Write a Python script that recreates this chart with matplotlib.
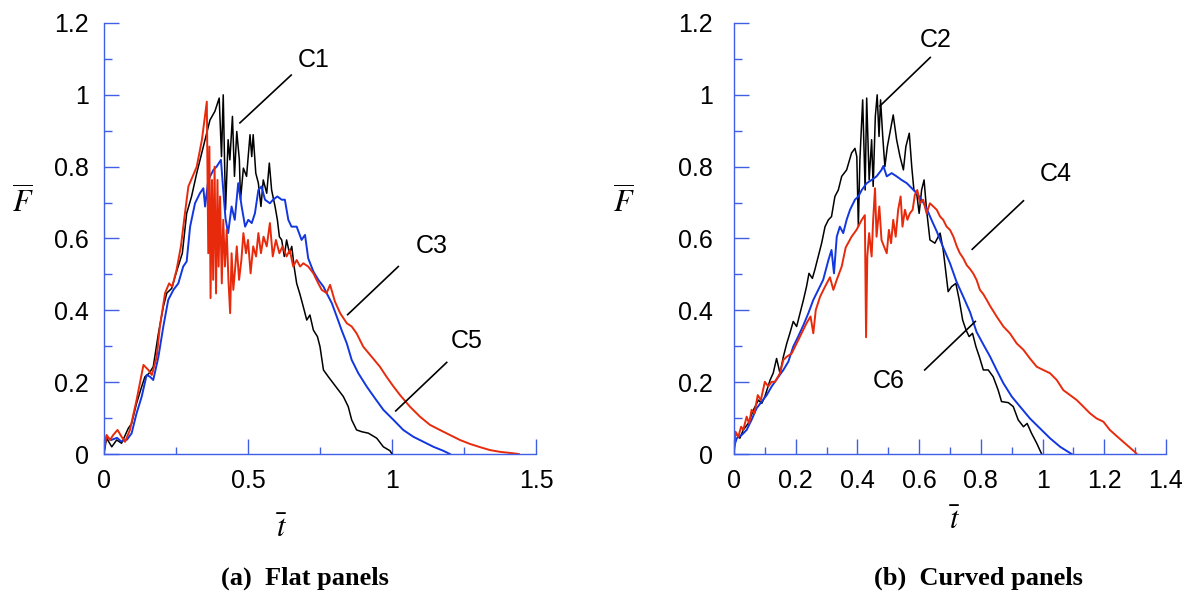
import matplotlib
matplotlib.use("Agg")
import matplotlib.pyplot as plt
from matplotlib.ticker import MultipleLocator, FuncFormatter

plt.rcParams['font.family'] = ['Liberation Sans', 'DejaVu Sans']
plt.rcParams['mathtext.fontset'] = 'stix'

# ---- (a) flat panels : C1 black, C3 red, C5 blue ----
t_c1 = [0, 0.009, 0.027, 0.044, 0.061, 0.084, 0.096, 0.113, 0.131, 0.142, 0.157, 0.171,
        0.189, 0.206, 0.218, 0.235, 0.252, 0.272, 0.287, 0.304, 0.322, 0.345, 0.368, 0.385,
        0.4, 0.408, 0.414, 0.422, 0.431, 0.437, 0.446, 0.453, 0.461, 0.47, 0.474, 0.484,
        0.495, 0.507, 0.513, 0.518, 0.527, 0.536, 0.545, 0.553, 0.565, 0.574, 0.582, 0.594,
        0.602, 0.609, 0.617, 0.626, 0.634, 0.644, 0.652, 0.66, 0.669, 0.681, 0.692, 0.704,
        0.715, 0.727, 0.741, 0.75, 0.762, 0.779, 0.796, 0.814, 0.831, 0.848, 0.86, 0.877,
        0.895, 0.918, 0.947, 0.97, 0.993, 1.0]
f_c1 = [0.002, 0.044, 0.02, 0.039, 0.03, 0.071, 0.085, 0.141, 0.188, 0.215, 0.225, 0.243,
        0.336, 0.41, 0.448, 0.461, 0.508, 0.559, 0.67, 0.717, 0.782, 0.856, 0.93, 0.954,
        0.991, 0.828, 1.0, 0.68, 0.875, 0.819, 0.94, 0.773, 0.898, 0.819, 0.708, 0.796,
        0.773, 0.889, 0.828, 0.889, 0.782, 0.754, 0.689, 0.763, 0.726, 0.81, 0.735, 0.689,
        0.652, 0.605, 0.596, 0.55, 0.596, 0.559, 0.578, 0.522, 0.475, 0.443, 0.41, 0.373,
        0.387, 0.345, 0.327, 0.299, 0.234, 0.215, 0.197, 0.178, 0.16, 0.132, 0.095, 0.067,
        0.062, 0.058, 0.044, 0.02, 0.009, 0.0]

t_c3 = [0.0, 0.009, 0.021, 0.032, 0.047, 0.061, 0.073, 0.09, 0.113, 0.137, 0.154, 0.166,
        0.183, 0.194, 0.212, 0.226, 0.237, 0.252, 0.267, 0.281, 0.293, 0.31, 0.322, 0.34,
        0.357, 0.362, 0.366, 0.37, 0.375, 0.379, 0.384, 0.389, 0.394, 0.398, 0.403, 0.409,
        0.414, 0.42, 0.426, 0.432, 0.438, 0.443, 0.449, 0.455, 0.461, 0.469, 0.477, 0.484,
        0.493, 0.5, 0.509, 0.518, 0.528, 0.536, 0.545, 0.554, 0.565, 0.576, 0.586, 0.597,
        0.609, 0.62, 0.634, 0.645, 0.657, 0.669, 0.681, 0.692, 0.709, 0.727, 0.744, 0.756,
        0.773, 0.785, 0.802, 0.82, 0.843, 0.86, 0.877, 0.9, 0.929, 0.958, 0.981, 1.005,
        1.028, 1.062, 1.097, 1.132, 1.166, 1.201, 1.236, 1.271, 1.306, 1.34, 1.375, 1.41,
        1.44]
f_c3 = [0.011, 0.053, 0.039, 0.053, 0.067, 0.048, 0.034, 0.067, 0.15, 0.248, 0.234, 0.22,
        0.271, 0.355, 0.448, 0.475, 0.466, 0.513, 0.578, 0.67, 0.745, 0.777, 0.8, 0.875,
        0.981, 0.559, 0.856, 0.434, 0.763, 0.485, 0.8, 0.447, 0.763, 0.522, 0.717, 0.475,
        0.652, 0.522, 0.624, 0.485, 0.392, 0.559, 0.457, 0.513, 0.578, 0.485, 0.54, 0.615,
        0.559, 0.596, 0.503, 0.578, 0.55, 0.615, 0.559, 0.605, 0.578, 0.643, 0.55, 0.596,
        0.559, 0.578, 0.55, 0.568, 0.522, 0.54, 0.522, 0.531, 0.522, 0.503, 0.475, 0.457,
        0.448, 0.471, 0.424, 0.392, 0.364, 0.355, 0.336, 0.299, 0.271, 0.243, 0.215, 0.188,
        0.164, 0.132, 0.104, 0.081, 0.067, 0.053, 0.039, 0.028, 0.019, 0.011, 0.006, 0.003,
        0.0]

t_c5 = [0.0, 0.009, 0.025, 0.045, 0.06, 0.08, 0.096, 0.113, 0.131, 0.148, 0.16, 0.171,
        0.189, 0.206, 0.223, 0.241, 0.258, 0.275, 0.287, 0.299, 0.316, 0.333, 0.345, 0.351,
        0.362, 0.38, 0.391, 0.406, 0.414, 0.422, 0.431, 0.443, 0.454, 0.466, 0.478, 0.49,
        0.501, 0.513, 0.524, 0.536, 0.547, 0.559, 0.576, 0.587, 0.602, 0.617, 0.628, 0.64,
        0.651, 0.669, 0.686, 0.698, 0.709, 0.727, 0.744, 0.762, 0.773, 0.791, 0.808, 0.825,
        0.843, 0.86, 0.883, 0.912, 0.941, 0.97, 1.005, 1.039, 1.074, 1.109, 1.144, 1.178,
        1.201]
f_c5 = [0.03, 0.048, 0.039, 0.045, 0.035, 0.04, 0.058, 0.113, 0.16, 0.22, 0.215, 0.206,
        0.271, 0.355, 0.429, 0.457, 0.475, 0.522, 0.536, 0.633, 0.698, 0.726, 0.74, 0.689,
        0.763, 0.791, 0.8, 0.819, 0.735, 0.655, 0.615, 0.689, 0.652, 0.754, 0.689, 0.633,
        0.652, 0.643, 0.67, 0.735, 0.745, 0.708, 0.698, 0.708, 0.717, 0.708, 0.708, 0.652,
        0.633, 0.633, 0.596, 0.61, 0.545, 0.508, 0.485, 0.466, 0.448, 0.42, 0.383, 0.345,
        0.308, 0.262, 0.225, 0.188, 0.155, 0.123, 0.095, 0.067, 0.048, 0.034, 0.02, 0.009,
        0.0]

# ---- (b) curved panels : C2 black, C4 red, C6 blue ----
t_c2 = [0, 0.005, 0.019, 0.03, 0.046, 0.063, 0.079, 0.09, 0.1, 0.117, 0.127, 0.138, 0.149,
        0.16, 0.171, 0.181, 0.192, 0.203, 0.214, 0.225, 0.235, 0.243, 0.254, 0.262, 0.273,
        0.284, 0.295, 0.306, 0.316, 0.327, 0.338, 0.349, 0.365, 0.381, 0.392, 0.398, 0.403,
        0.408, 0.417, 0.425, 0.43, 0.438, 0.446, 0.451, 0.458, 0.464, 0.47, 0.475, 0.482,
        0.489, 0.497, 0.505, 0.516, 0.527, 0.538, 0.549, 0.557, 0.568, 0.576, 0.583, 0.592,
        0.6, 0.608, 0.616, 0.624, 0.635, 0.651, 0.668, 0.678, 0.687, 0.694, 0.705, 0.719,
        0.73, 0.741, 0.752, 0.762, 0.773, 0.784, 0.795, 0.808, 0.824, 0.84, 0.856, 0.867,
        0.889, 0.905, 0.921, 0.938, 0.95, 0.964, 0.981, 0.997]
f_c2 = [0, 0.058, 0.044, 0.067, 0.085, 0.123, 0.15, 0.141, 0.16, 0.206, 0.225, 0.266, 0.225,
        0.271, 0.308, 0.336, 0.369, 0.355, 0.392, 0.429, 0.466, 0.503, 0.489, 0.513, 0.55,
        0.587, 0.633, 0.652, 0.661, 0.717, 0.735, 0.773, 0.791, 0.838, 0.851, 0.828, 0.633,
        0.819, 0.986, 0.735, 0.991, 0.763, 0.875, 0.745, 0.94, 1.0, 0.884, 0.986, 0.884,
        0.8, 0.856, 0.893, 0.944, 0.875, 0.828, 0.791, 0.856, 0.893, 0.8, 0.735, 0.726,
        0.67, 0.735, 0.763, 0.68, 0.596, 0.587, 0.615, 0.568, 0.503, 0.452, 0.466, 0.475,
        0.429, 0.373, 0.345, 0.327, 0.336, 0.299, 0.271, 0.234, 0.234, 0.215, 0.178, 0.146,
        0.143, 0.132, 0.095, 0.076, 0.085, 0.058, 0.03, 0.0]

t_c4 = [0, 0.005, 0.014, 0.023, 0.03, 0.041, 0.049, 0.057, 0.066, 0.077, 0.087, 0.1, 0.111,
        0.122, 0.133, 0.149, 0.16, 0.171, 0.187, 0.203, 0.219, 0.235, 0.248, 0.257, 0.265,
        0.279, 0.295, 0.311, 0.322, 0.333, 0.349, 0.362, 0.381, 0.397, 0.414, 0.424, 0.428,
        0.432, 0.438, 0.446, 0.451, 0.457, 0.462, 0.471, 0.478, 0.486, 0.495, 0.502, 0.509,
        0.516, 0.524, 0.532, 0.54, 0.546, 0.554, 0.562, 0.57, 0.579, 0.586, 0.594, 0.603,
        0.613, 0.624, 0.635, 0.646, 0.657, 0.668, 0.678, 0.689, 0.7, 0.711, 0.722, 0.732,
        0.743, 0.754, 0.765, 0.775, 0.786, 0.797, 0.808, 0.819, 0.83, 0.851, 0.873, 0.894,
        0.916, 0.938, 0.959, 0.981, 1.002, 1.024, 1.046, 1.067, 1.089, 1.111, 1.132, 1.154,
        1.175, 1.197, 1.218, 1.24, 1.26, 1.28, 1.3, 1.305]
f_c4 = [0.011, 0.062, 0.048, 0.076, 0.067, 0.104, 0.085, 0.123, 0.113, 0.164, 0.15, 0.201,
        0.188, 0.201, 0.201, 0.225, 0.262, 0.271, 0.28, 0.308, 0.336, 0.364, 0.383, 0.336,
        0.401, 0.438, 0.466, 0.492, 0.457, 0.485, 0.522, 0.575, 0.605, 0.624, 0.652, 0.665,
        0.325, 0.55, 0.615, 0.55, 0.652, 0.74, 0.605, 0.689, 0.596, 0.578, 0.559, 0.624,
        0.587, 0.652, 0.605, 0.68, 0.717, 0.633, 0.68, 0.652, 0.67, 0.68, 0.721, 0.735,
        0.698, 0.708, 0.67, 0.698, 0.689, 0.68, 0.661, 0.652, 0.633, 0.624, 0.605, 0.578,
        0.559, 0.545, 0.526, 0.515, 0.503, 0.485, 0.457, 0.445, 0.429, 0.412, 0.383, 0.355,
        0.336, 0.308, 0.29, 0.266, 0.243, 0.234, 0.225, 0.206, 0.178, 0.164, 0.15, 0.132,
        0.113, 0.099, 0.09, 0.067, 0.05, 0.035, 0.02, 0.005, 0.0]

t_c6 = [0, 0.009, 0.025, 0.041, 0.057, 0.073, 0.09, 0.106, 0.122, 0.144, 0.16, 0.176, 0.192,
        0.208, 0.225, 0.241, 0.257, 0.273, 0.289, 0.306, 0.316, 0.324, 0.333, 0.343, 0.354,
        0.365, 0.376, 0.392, 0.403, 0.414, 0.43, 0.446, 0.462, 0.478, 0.484, 0.495, 0.511,
        0.527, 0.543, 0.56, 0.576, 0.592, 0.608, 0.624, 0.64, 0.657, 0.678, 0.7, 0.721,
        0.743, 0.765, 0.786, 0.808, 0.83, 0.851, 0.873, 0.9, 0.927, 0.959, 0.992, 1.024,
        1.057, 1.094]
f_c6 = [0.02, 0.044, 0.053, 0.067, 0.095, 0.127, 0.146, 0.164, 0.188, 0.215, 0.234, 0.257,
        0.299, 0.327, 0.359, 0.392, 0.429, 0.457, 0.485, 0.54, 0.568, 0.503, 0.605, 0.633,
        0.615, 0.652, 0.68, 0.708, 0.717, 0.735, 0.754, 0.763, 0.773, 0.791, 0.802, 0.773,
        0.782, 0.773, 0.763, 0.754, 0.74, 0.726, 0.708, 0.684, 0.652, 0.62, 0.575, 0.531,
        0.48, 0.438, 0.395, 0.34, 0.305, 0.271, 0.234, 0.197, 0.16, 0.132, 0.099, 0.071,
        0.044, 0.02, 0.0]

axis_blue = '#3f5fe6'
black = '#000000'
red = '#e82a0c'
blue = '#1236e0'

fig = plt.figure(figsize=(11.84, 5.92), dpi=100)
ax1 = fig.add_axes([104 / 1184, 138 / 592, 432 / 1184, 431 / 592])
ax2 = fig.add_axes([734 / 1184, 138 / 592, 432 / 1184, 431 / 592])


def style(ax, xmax, xmaj, xmin, ypad):
    ax.set_xlim(0, xmax)
    ax.set_ylim(0, 1.2)
    for s in ('top', 'right'):
        ax.spines[s].set_visible(False)
    for s in ('left', 'bottom'):
        ax.spines[s].set_color(axis_blue)
        ax.spines[s].set_linewidth(1.0)
    ax.xaxis.set_major_locator(MultipleLocator(xmaj))
    ax.xaxis.set_minor_locator(MultipleLocator(xmin))
    ax.yaxis.set_major_locator(MultipleLocator(0.2))
    ax.yaxis.set_minor_locator(MultipleLocator(0.1))
    fmt = FuncFormatter(lambda v, p: f'{v:g}')
    ax.xaxis.set_major_formatter(fmt)
    ax.yaxis.set_major_formatter(fmt)
    ax.tick_params(which='both', direction='in', color=axis_blue, width=1.0,
                   labelsize=18, labelcolor='black')
    ax.tick_params(which='major', length=10.8)
    ax.tick_params(which='minor', length=5.4)
    ax.tick_params(axis='x', pad=11)
    ax.tick_params(axis='y', pad=ypad)
    ax.set_facecolor('none')


style(ax1, 1.5, 0.5, 0.25, 11)
style(ax2, 1.4, 0.2, 0.1, 15)

ax1.plot(t_c1, f_c1, color=black, lw=1.1)
ax1.plot(t_c5, f_c5, color=blue, lw=1.4)
ax1.plot(t_c3, f_c3, color=red, lw=1.4)

ax2.plot(t_c2, f_c2, color=black, lw=1.1)
ax2.plot(t_c6, f_c6, color=blue, lw=1.4)
ax2.plot(t_c4, f_c4, color=red, lw=1.4)

# callouts: (label, text xy, line start, line end)
callouts1 = [('C1', (0.728, 1.096), (0.65, 1.055), (0.472, 0.922)),
             ('C3', (1.137, 0.578), (1.022, 0.522), (0.846, 0.388)),
             ('C5', (1.258, 0.315), (1.19, 0.255), (1.013, 0.12))]
callouts2 = [('C2', (0.655, 1.154), (0.636, 1.104), (0.473, 0.969)),
             ('C4', (1.044, 0.78), (0.938, 0.705), (0.772, 0.57)),
             ('C6', (0.501, 0.202), (0.618, 0.234), (0.782, 0.369))]
for ax, callouts in ((ax1, callouts1), (ax2, callouts2)):
    for name, txy, p0, p1 in callouts:
        ax.text(txy[0], txy[1], name, fontsize=18, ha='center', va='center')
        ax.plot([p0[0], p1[0]], [p0[1], p1[1]], color='black', lw=1.2)

# axis labels and captions
for x in (22.6, 624):
    fig.text(x / 1184, 1 - 203 / 592, r'$\overline{F}$', fontsize=22,
             ha='center', va='center')
fig.text(282 / 1184, 1 - 529 / 592, r'$\bar{t}$', fontsize=22, ha='center', va='center')
fig.text(955 / 1184, 1 - 521 / 592, r'$\bar{t}$', fontsize=22, ha='center', va='center')
fig.text(305 / 1184, 1 - 578.6 / 592, '(a)  Flat panels', fontsize=19, fontweight='bold',
         family='Liberation Serif', ha='center', va='center')
fig.text(978 / 1184, 1 - 578.6 / 592, '(b)  Curved panels', fontsize=19, fontweight='bold',
         family='Liberation Serif', ha='center', va='center')

fig.savefig('out.png', dpi=100)
